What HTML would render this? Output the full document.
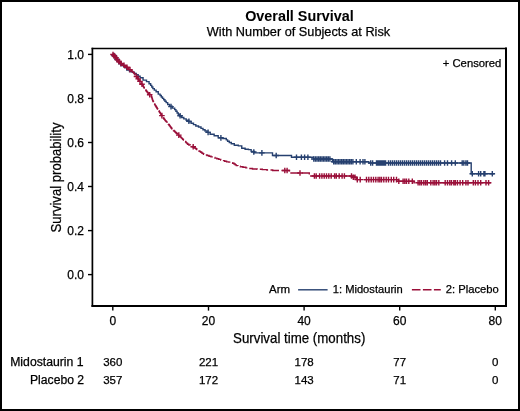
<!DOCTYPE html>
<html><head><meta charset="utf-8"><style>
html,body{margin:0;padding:0;background:#fff;}
svg{display:block;will-change:transform;}
text{font-family:"Liberation Sans", sans-serif;fill:#000;stroke:#000;stroke-width:0.25px;}
.b{stroke-width:0.05px;}
</style></head><body>
<svg width="520" height="411" viewBox="0 0 520 411">
<rect x="0" y="0" width="520" height="411" fill="#fff"/>
<rect x="1" y="1" width="518" height="409" fill="none" stroke="#000" stroke-width="2"/>
<text x="245.20" y="20.80" font-size="13.80" font-weight="bold" class="b" textLength="108.51" lengthAdjust="spacingAndGlyphs">Overall Survival</text>
<text x="206.85" y="36.40" font-size="13.40" textLength="183.35" lengthAdjust="spacingAndGlyphs">With Number of Subjects at Risk</text>
<g fill="none" stroke-linejoin="miter">
<path d="M112.70 54.20 L113.35 54.20 L113.35 55.50 L114.65 55.50 L114.65 56.80 L115.30 56.80 L115.85 56.80 L115.85 58.40 L116.95 58.40 L116.95 60.00 L117.50 60.00 L118.05 60.00 L118.05 61.30 L119.15 61.30 L119.15 62.60 L119.70 62.60 L121.15 62.60 L121.15 65.00 L122.60 65.00 L123.32 65.00 L123.32 66.40 L124.78 66.40 L124.78 67.80 L125.50 67.80 L126.75 67.80 L126.75 70.00 L128.00 70.00 L129.50 70.00 L129.50 71.50 L131.00 71.50 L132.15 71.50 L132.15 72.30 L133.30 72.30 L134.28 72.30 L134.28 73.55 L136.22 73.55 L136.22 74.80 L137.20 74.80 L138.17 74.80 L138.17 76.25 L140.12 76.25 L140.12 77.70 L141.10 77.70 L143.05 77.70 L143.05 80.10 L145.00 80.10 L146.50 80.10 L146.50 81.60 L148.00 81.60 L149.05 81.60 L149.05 83.80 L150.10 83.80 L150.65 83.80 L150.65 85.40 L151.75 85.40 L151.75 87.00 L152.85 87.00 L152.85 88.60 L153.40 88.60 L154.30 88.60 L154.30 90.15 L156.10 90.15 L156.10 91.70 L157.00 91.70 L158.25 91.70 L158.25 94.10 L159.50 94.10 L160.10 94.10 L160.10 95.53 L161.30 95.53 L161.30 96.97 L162.50 96.97 L162.50 98.40 L163.10 98.40 L163.72 98.40 L163.72 99.80 L164.95 99.80 L164.95 101.20 L166.18 101.20 L166.18 102.60 L166.80 102.60 L167.70 102.60 L167.70 104.45 L169.50 104.45 L169.50 106.30 L170.40 106.30 L172.25 106.30 L172.25 108.10 L174.10 108.10 L174.70 108.10 L174.70 109.65 L175.90 109.65 L175.90 111.20 L176.50 111.20 L177.10 111.20 L177.10 113.00 L178.30 113.00 L178.30 114.80 L178.90 114.80 L179.82 114.80 L179.82 116.15 L181.68 116.15 L181.68 117.50 L182.60 117.50 L183.80 117.50 L183.80 118.90 L186.20 118.90 L186.20 120.30 L187.40 120.30 L188.62 120.30 L188.62 121.80 L191.08 121.80 L191.08 123.30 L192.30 123.30 L193.48 123.30 L193.48 124.65 L195.82 124.65 L195.82 126.00 L197.00 126.00 L198.50 126.00 L198.50 127.00 L200.00 127.00 L201.00 127.00 L201.00 128.35 L203.00 128.35 L203.00 129.70 L204.00 129.70 L205.03 129.70 L205.03 131.05 L207.07 131.05 L207.07 132.40 L208.10 132.40 L210.10 132.40 L210.10 134.20 L212.10 134.20 L214.15 134.20 L214.15 135.80 L216.20 135.80 L218.20 135.80 L218.20 137.80 L220.20 137.80 L222.90 137.80 L222.90 138.50 L225.60 138.50 L226.28 138.50 L226.28 139.85 L227.62 139.85 L227.62 141.20 L228.30 141.20 L229.30 141.20 L229.30 142.50 L231.30 142.50 L231.30 143.80 L232.30 143.80 L234.30 143.80 L234.30 145.20 L236.30 145.20 L238.35 145.20 L238.35 145.90 L240.40 145.90 L241.75 145.90 L241.75 148.20 L243.10 148.20 L245.10 148.20 L245.10 149.20 L247.10 149.20 L248.45 149.20 L248.45 149.60 L249.80 149.60 L251.15 149.60 L251.15 151.50 L252.50 151.50 L254.50 151.50 L254.50 152.90 L256.50 152.90 L256.5 152.9 L272.5 152.9 L272.5 155.5 L291.5 155.5 L291.5 157.2 L313.3 157.2 L313.3 159.0 L332.5 159.0 L332.5 161.7 L368.8 161.7 L368.8 163.0 L471.2 163.0 L471.2 173.8 L494.4 173.8" stroke="#26406f" stroke-width="1.4"/>
<path d="M114.0 52.7v5.6M111.2 55.5h5.6M117.0 56.5v5.6M114.2 59.3h5.6M121.0 60.9v5.6M118.2 63.7h5.6M171.0 103.8v5.6M168.2 106.6h5.6M180.1 112.9v5.6M177.3 115.7h5.6M188.9 118.4v5.6M186.1 121.2h5.6M208.1 129.6v5.6M205.3 132.4h5.6M220.9 135.1v5.6M218.1 137.9h5.6M253.8 149.2v5.6M251.0 152.0h5.6M261.9 150.1v5.6M259.1 152.9h5.6M276.2 152.7v5.6M273.4 155.5h5.6M296.5 154.4v5.6M293.7 157.2h5.6M301.4 154.4v5.6M298.6 157.2h5.6M304.6 154.4v5.6M301.8 157.2h5.6M307.9 154.4v5.6M305.1 157.2h5.6M313.8 156.2v5.6M311.0 159.0h5.6M315.5 156.2v5.6M312.7 159.0h5.6M317.1 156.2v5.6M314.3 159.0h5.6M318.7 156.2v5.6M315.9 159.0h5.6M320.3 156.2v5.6M317.5 159.0h5.6M321.9 156.2v5.6M319.1 159.0h5.6M323.5 156.2v5.6M320.7 159.0h5.6M325.1 156.2v5.6M322.3 159.0h5.6M326.7 156.2v5.6M323.9 159.0h5.6M328.3 156.2v5.6M325.5 159.0h5.6M329.9 156.2v5.6M327.1 159.0h5.6M333.7 158.9v5.6M330.9 161.7h5.6M335.3 158.9v5.6M332.5 161.7h5.6M336.9 158.9v5.6M334.1 161.7h5.6M338.5 158.9v5.6M335.7 161.7h5.6M340.1 158.9v5.6M337.3 161.7h5.6M341.7 158.9v5.6M338.9 161.7h5.6M343.3 158.9v5.6M340.5 161.7h5.6M344.9 158.9v5.6M342.1 161.7h5.6M346.5 158.9v5.6M343.7 161.7h5.6M348.1 158.9v5.6M345.3 161.7h5.6M349.7 158.9v5.6M346.9 161.7h5.6M351.3 158.9v5.6M348.5 161.7h5.6M352.9 158.9v5.6M350.1 161.7h5.6M356.3 158.9v5.6M353.5 161.7h5.6M360.1 158.9v5.6M357.3 161.7h5.6M363.0 158.9v5.6M360.2 161.7h5.6M364.9 158.9v5.6M362.1 161.7h5.6M370.7 160.2v5.6M367.9 163.0h5.6M372.6 160.2v5.6M369.8 163.0h5.6M376.5 160.2v5.6M373.7 163.0h5.6M377.8 160.2v5.6M375.0 163.0h5.6M379.1 160.2v5.6M376.3 163.0h5.6M380.4 160.2v5.6M377.6 163.0h5.6M381.7 160.2v5.6M378.9 163.0h5.6M383.0 160.2v5.6M380.2 163.0h5.6M384.3 160.2v5.6M381.5 163.0h5.6M385.6 160.2v5.6M382.8 163.0h5.6M388.5 160.2v5.6M385.7 163.0h5.6M390.5 160.2v5.6M387.7 163.0h5.6M392.5 160.2v5.6M389.7 163.0h5.6M394.5 160.2v5.6M391.7 163.0h5.6M396.5 160.2v5.6M393.7 163.0h5.6M398.5 160.2v5.6M395.7 163.0h5.6M400.5 160.2v5.6M397.7 163.0h5.6M402.5 160.2v5.6M399.7 163.0h5.6M404.5 160.2v5.6M401.7 163.0h5.6M406.5 160.2v5.6M403.7 163.0h5.6M408.5 160.2v5.6M405.7 163.0h5.6M410.5 160.2v5.6M407.7 163.0h5.6M412.5 160.2v5.6M409.7 163.0h5.6M414.5 160.2v5.6M411.7 163.0h5.6M416.5 160.2v5.6M413.7 163.0h5.6M418.5 160.2v5.6M415.7 163.0h5.6M420.5 160.2v5.6M417.7 163.0h5.6M422.5 160.2v5.6M419.7 163.0h5.6M424.5 160.2v5.6M421.7 163.0h5.6M426.5 160.2v5.6M423.7 163.0h5.6M428.5 160.2v5.6M425.7 163.0h5.6M430.5 160.2v5.6M427.7 163.0h5.6M432.5 160.2v5.6M429.7 163.0h5.6M434.5 160.2v5.6M431.7 163.0h5.6M436.5 160.2v5.6M433.7 163.0h5.6M438.5 160.2v5.6M435.7 163.0h5.6M440.5 160.2v5.6M437.7 163.0h5.6M444.6 160.2v5.6M441.8 163.0h5.6M447.5 160.2v5.6M444.7 163.0h5.6M451.6 160.2v5.6M448.8 163.0h5.6M455.3 160.2v5.6M452.5 163.0h5.6M462.2 160.2v5.6M459.4 163.0h5.6M463.8 160.2v5.6M461.0 163.0h5.6M465.9 160.2v5.6M463.1 163.0h5.6M467.5 160.2v5.6M464.7 163.0h5.6M472.3 171.0v5.6M469.5 173.8h5.6M478.6 171.0v5.6M475.8 173.8h5.6M480.7 171.0v5.6M477.9 173.8h5.6M483.9 171.0v5.6M481.1 173.8h5.6M484.9 171.0v5.6M482.1 173.8h5.6M492.3 171.0v5.6M489.5 173.8h5.6" stroke="#26406f" stroke-width="1.4"/>
<path d="M112.70 54.20 L113.03 54.20 L113.03 54.85 L113.67 54.85 L113.67 55.50 L114.33 55.50 L114.33 56.15 L114.97 56.15 L114.97 56.80 L115.30 56.80 L115.52 56.80 L115.52 57.44 L115.96 57.44 L115.96 58.08 L116.40 58.08 L116.40 58.72 L116.84 58.72 L116.84 59.36 L117.28 59.36 L117.28 60.00 L117.50 60.00 L117.78 60.00 L117.78 60.65 L118.33 60.65 L118.33 61.30 L118.88 61.30 L118.88 61.95 L119.42 61.95 L119.42 62.60 L119.70 62.60 L120.18 62.60 L120.18 63.20 L121.15 63.20 L121.15 63.80 L122.12 63.80 L122.12 64.40 L122.60 64.40 L123.08 64.40 L123.08 65.00 L124.05 65.00 L124.05 65.60 L125.02 65.60 L125.02 66.20 L125.50 66.20 L125.98 66.20 L125.98 66.93 L126.95 66.93 L126.95 67.67 L127.92 67.67 L127.92 68.40 L128.40 68.40 L128.90 68.40 L128.90 69.13 L129.90 69.13 L129.90 69.87 L130.90 69.87 L130.90 70.60 L131.40 70.60 L131.76 70.60 L131.76 71.25 L132.49 71.25 L132.49 71.90 L133.21 71.90 L133.21 72.55 L133.94 72.55 L133.94 73.20 L134.30 73.20 L134.55 73.20 L134.55 73.96 L135.05 73.96 L135.05 74.72 L135.55 74.72 L135.55 75.48 L136.05 75.48 L136.05 76.24 L136.55 76.24 L136.55 77.00 L136.80 77.00 L137.04 77.00 L137.04 77.67 L137.53 77.67 L137.53 78.33 L138.01 78.33 L138.01 79.00 L138.49 79.00 L138.49 79.67 L138.97 79.67 L138.97 80.33 L139.46 80.33 L139.46 81.00 L139.70 81.00 L139.94 81.00 L139.94 81.67 L140.42 81.67 L140.42 82.33 L140.91 82.33 L140.91 83.00 L141.39 83.00 L141.39 83.67 L141.88 83.67 L141.88 84.33 L142.36 84.33 L142.36 85.00 L142.60 85.00 L142.79 85.00 L142.79 85.67 L143.18 85.67 L143.18 86.33 L143.56 86.33 L143.56 87.00 L143.94 87.00 L143.94 87.67 L144.32 87.67 L144.32 88.33 L144.71 88.33 L144.71 89.00 L144.90 89.00 L145.20 89.00 L145.20 89.75 L145.80 89.75 L145.80 90.50 L146.40 90.50 L146.40 91.25 L147.00 91.25 L147.00 92.00 L147.60 92.00 L147.60 92.75 L148.20 92.75 L148.20 93.50 L148.50 93.50 L148.89 93.50 L148.89 94.28 L149.66 94.28 L149.66 95.05 L150.44 95.05 L150.44 95.82 L151.21 95.82 L151.21 96.60 L151.60 96.60 L151.71 96.60 L151.71 97.30 L151.93 97.30 L151.93 98.00 L152.14 98.00 L152.14 98.70 L152.36 98.70 L152.36 99.40 L152.57 99.40 L152.57 100.10 L152.79 100.10 L152.79 100.80 L152.90 100.80 L153.09 100.80 L153.09 101.52 L153.47 101.52 L153.47 102.23 L153.86 102.23 L153.86 102.95 L154.24 102.95 L154.24 103.67 L154.62 103.67 L154.62 104.38 L155.01 104.38 L155.01 105.10 L155.20 105.10 L155.43 105.10 L155.43 105.82 L155.89 105.82 L155.89 106.54 L156.35 106.54 L156.35 107.26 L156.81 107.26 L156.81 107.98 L157.27 107.98 L157.27 108.70 L157.50 108.70 L157.71 108.70 L157.71 109.35 L158.12 109.35 L158.12 110.00 L158.54 110.00 L158.54 110.65 L158.96 110.65 L158.96 111.30 L159.38 111.30 L159.38 111.95 L159.79 111.95 L159.79 112.60 L160.00 112.60 L160.24 112.60 L160.24 113.36 L160.72 113.36 L160.72 114.12 L161.20 114.12 L161.20 114.88 L161.68 114.88 L161.68 115.64 L162.16 115.64 L162.16 116.40 L162.40 116.40 L162.65 116.40 L162.65 117.10 L163.15 117.10 L163.15 117.80 L163.65 117.80 L163.65 118.50 L164.15 118.50 L164.15 119.20 L164.65 119.20 L164.65 119.90 L164.90 119.90 L165.22 119.90 L165.22 120.62 L165.88 120.62 L165.88 121.35 L166.53 121.35 L166.53 122.08 L167.18 122.08 L167.18 122.80 L167.50 122.80 L167.76 122.80 L167.76 123.47 L168.27 123.47 L168.27 124.15 L168.78 124.15 L168.78 124.82 L169.29 124.82 L169.29 125.50 L169.81 125.50 L169.81 126.17 L170.32 126.17 L170.32 126.85 L170.83 126.85 L170.83 127.52 L171.34 127.52 L171.34 128.20 L171.60 128.20 L171.97 128.20 L171.97 128.96 L172.71 128.96 L172.71 129.72 L173.45 129.72 L173.45 130.48 L174.19 130.48 L174.19 131.24 L174.93 131.24 L174.93 132.00 L175.30 132.00 L175.71 132.00 L175.71 132.72 L176.53 132.72 L176.53 133.44 L177.35 133.44 L177.35 134.16 L178.17 134.16 L178.17 134.88 L178.99 134.88 L178.99 135.60 L179.40 135.60 L179.77 135.60 L179.77 136.35 L180.50 136.35 L180.50 137.10 L181.23 137.10 L181.23 137.85 L181.97 137.85 L181.97 138.60 L182.70 138.60 L182.70 139.35 L183.43 139.35 L183.43 140.10 L183.80 140.10 L184.16 140.10 L184.16 140.78 L184.88 140.78 L184.88 141.47 L185.59 141.47 L185.59 142.15 L186.31 142.15 L186.31 142.83 L187.03 142.83 L187.03 143.52 L187.74 143.52 L187.74 144.20 L188.10 144.20 L188.84 144.20 L188.84 144.95 L190.31 144.95 L190.31 145.70 L191.79 145.70 L191.79 146.45 L193.26 146.45 L193.26 147.20 L194.00 147.20 L194.55 147.20 L194.55 147.97 L195.65 147.97 L195.65 148.75 L196.75 148.75 L196.75 149.53 L197.85 149.53 L197.85 150.30 L198.40 150.30 L198.88 150.30 L198.88 150.97 L199.85 150.97 L199.85 151.63 L200.82 151.63 L200.82 152.30 L201.78 152.30 L201.78 152.97 L202.75 152.97 L202.75 153.63 L203.72 153.63 L203.72 154.30 L204.20 154.30 L205.17 154.30 L205.17 154.93 L207.10 154.93 L207.10 155.57 L209.03 155.57 L209.03 156.20 L210.00 156.20 L210.98 156.20 L210.98 156.83 L212.95 156.83 L212.95 157.47 L214.92 157.47 L214.92 158.10 L215.90 158.10 L216.87 158.10 L216.87 158.73 L218.80 158.73 L218.80 159.37 L220.73 159.37 L220.73 160.00 L221.70 160.00 L222.68 160.00 L222.68 160.63 L224.65 160.63 L224.65 161.27 L226.62 161.27 L226.62 161.90 L227.60 161.90 L228.80 161.90 L228.80 162.10 L230.00 162.10 L230.88 162.10 L230.88 162.70 L232.62 162.70 L232.62 163.30 L233.50 163.30 L234.07 163.30 L234.07 164.07 L235.20 164.07 L235.20 164.83 L236.33 164.83 L236.33 165.60 L236.90 165.60 L238.05 165.60 L238.05 166.15 L240.35 166.15 L240.35 166.70 L241.50 166.70 L242.95 166.70 L242.95 167.30 L245.85 167.30 L245.85 167.90 L247.30 167.90 L249.03 167.90 L249.03 168.45 L252.47 168.45 L252.47 169.00 L254.20 169.00 L257.10 169.00 L257.10 169.30 L260.00 169.30 L262.30 169.30 L262.30 169.60 L264.60 169.60 L266.90 169.60 L266.90 170.00 L269.20 170.00 L272.70 170.00 L272.70 170.50 L276.20 170.50 L276.2 170.5 L289.5 170.5 L289.5 173.0 L309.3 173.0 L309.3 176.0 L352.0 176.0 L352.0 177.2 L356.5 177.2 L356.5 179.6 L398.5 179.6 L398.5 181.3 L414.0 181.3 L414.0 182.8 L490.8 182.8" stroke="#9a0f39" stroke-width="1.4" stroke-dasharray="9 2.4"/>
<path d="M113.0 51.7v5.6M110.2 54.5h5.6M114.5 53.2v5.6M111.7 56.0h5.6M116.0 55.0v5.6M113.2 57.8h5.6M117.5 57.2v5.6M114.7 60.0h5.6M119.0 59.0v5.6M116.2 61.8h5.6M121.0 60.6v5.6M118.2 63.4h5.6M124.0 62.5v5.6M121.2 65.3h5.6M127.0 64.5v5.6M124.2 67.3h5.6M130.0 66.8v5.6M127.2 69.6h5.6M136.5 73.7v5.6M133.7 76.5h5.6M138.2 76.1v5.6M135.4 78.9h5.6M140.0 78.6v5.6M137.2 81.4h5.6M142.0 81.4v5.6M139.2 84.2h5.6M149.7 91.9v5.6M146.9 94.7h5.6M161.9 112.8v5.6M159.1 115.6h5.6M178.8 132.3v5.6M176.0 135.1h5.6M193.2 144.0v5.6M190.4 146.8h5.6M284.8 167.7v5.6M282.0 170.5h5.6M287.1 167.7v5.6M284.3 170.5h5.6M300.0 170.2v5.6M297.2 173.0h5.6M314.4 173.2v5.6M311.6 176.0h5.6M316.2 173.2v5.6M313.4 176.0h5.6M319.6 173.2v5.6M316.8 176.0h5.6M321.9 173.2v5.6M319.1 176.0h5.6M324.2 173.2v5.6M321.4 176.0h5.6M326.5 173.2v5.6M323.7 176.0h5.6M328.8 173.2v5.6M326.0 176.0h5.6M331.2 173.2v5.6M328.4 176.0h5.6M334.6 173.2v5.6M331.8 176.0h5.6M336.3 173.2v5.6M333.5 176.0h5.6M339.2 173.2v5.6M336.4 176.0h5.6M342.1 173.2v5.6M339.3 176.0h5.6M344.4 173.2v5.6M341.6 176.0h5.6M351.5 173.2v5.6M348.7 176.0h5.6M353.3 174.4v5.6M350.5 177.2h5.6M355.0 174.4v5.6M352.2 177.2h5.6M357.3 176.8v5.6M354.5 179.6h5.6M360.2 176.8v5.6M357.4 179.6h5.6M366.5 176.8v5.6M363.7 179.6h5.6M368.8 176.8v5.6M366.0 179.6h5.6M371.2 176.8v5.6M368.4 179.6h5.6M373.5 176.8v5.6M370.7 179.6h5.6M375.8 176.8v5.6M373.0 179.6h5.6M378.1 176.8v5.6M375.3 179.6h5.6M379.8 176.8v5.6M377.0 179.6h5.6M381.5 176.8v5.6M378.7 179.6h5.6M383.8 176.8v5.6M381.0 179.6h5.6M386.2 176.8v5.6M383.4 179.6h5.6M388.5 176.8v5.6M385.7 179.6h5.6M391.3 176.8v5.6M388.5 179.6h5.6M393.7 176.8v5.6M390.9 179.6h5.6M396.5 176.8v5.6M393.7 179.6h5.6M398.8 178.5v5.6M396.0 181.3h5.6M403.1 178.5v5.6M400.3 181.3h5.6M404.8 178.5v5.6M402.0 181.3h5.6M406.5 178.5v5.6M403.7 181.3h5.6M408.8 178.5v5.6M406.0 181.3h5.6M412.3 178.5v5.6M409.5 181.3h5.6M418.1 180.0v5.6M415.3 182.8h5.6M419.8 180.0v5.6M417.0 182.8h5.6M421.5 180.0v5.6M418.7 182.8h5.6M423.8 180.0v5.6M421.0 182.8h5.6M425.6 180.0v5.6M422.8 182.8h5.6M427.3 180.0v5.6M424.5 182.8h5.6M430.8 180.0v5.6M428.0 182.8h5.6M433.1 180.0v5.6M430.3 182.8h5.6M434.8 180.0v5.6M432.0 182.8h5.6M436.5 180.0v5.6M433.7 182.8h5.6M438.8 180.0v5.6M436.0 182.8h5.6M445.2 180.0v5.6M442.4 182.8h5.6M447.5 180.0v5.6M444.7 182.8h5.6M449.8 180.0v5.6M447.0 182.8h5.6M451.5 180.0v5.6M448.7 182.8h5.6M453.8 180.0v5.6M451.0 182.8h5.6M455.3 180.0v5.6M452.5 182.8h5.6M457.4 180.0v5.6M454.6 182.8h5.6M460.1 180.0v5.6M457.3 182.8h5.6M462.7 180.0v5.6M459.9 182.8h5.6M465.9 180.0v5.6M463.1 182.8h5.6M468.0 180.0v5.6M465.2 182.8h5.6M473.3 180.0v5.6M470.5 182.8h5.6M475.4 180.0v5.6M472.6 182.8h5.6M478.0 180.0v5.6M475.2 182.8h5.6M480.7 180.0v5.6M477.9 182.8h5.6M486.0 180.0v5.6M483.2 182.8h5.6M488.6 180.0v5.6M485.8 182.8h5.6" stroke="#9a0f39" stroke-width="1.4"/>
</g>
<g stroke="#000" fill="none" stroke-linecap="square">
<line x1="92.4" y1="48.5" x2="92.4" y2="306" stroke-width="1.7"/>
<line x1="92.4" y1="48.5" x2="506" y2="48.5" stroke-width="1.6"/>
<line x1="506" y1="48.5" x2="506" y2="306" stroke-width="2"/>
<line x1="92.4" y1="306" x2="506" y2="306" stroke-width="1.9"/>
</g>
<g stroke="#000" stroke-width="1.4"><line x1="88" y1="274.6" x2="92" y2="274.6"/><line x1="88" y1="230.6" x2="92" y2="230.6"/><line x1="88" y1="186.5" x2="92" y2="186.5"/><line x1="88" y1="142.5" x2="92" y2="142.5"/><line x1="88" y1="98.4" x2="92" y2="98.4"/><line x1="88" y1="54.4" x2="92" y2="54.4"/><line x1="112.8" y1="306" x2="112.8" y2="310.6"/><line x1="208.5" y1="306" x2="208.5" y2="310.6"/><line x1="304.1" y1="306" x2="304.1" y2="310.6"/><line x1="399.7" y1="306" x2="399.7" y2="310.6"/><line x1="495.3" y1="306" x2="495.3" y2="310.6"/></g>
<g font-size="12"><text x="84" y="278.8" text-anchor="end">0.0</text><text x="84" y="234.8" text-anchor="end">0.2</text><text x="84" y="190.7" text-anchor="end">0.4</text><text x="84" y="146.7" text-anchor="end">0.6</text><text x="84" y="102.6" text-anchor="end">0.8</text><text x="84" y="58.6" text-anchor="end">1.0</text><text x="112.8" y="324.9" text-anchor="middle">0</text><text x="208.5" y="324.9" text-anchor="middle">20</text><text x="304.1" y="324.9" text-anchor="middle">40</text><text x="399.7" y="324.9" text-anchor="middle">60</text><text x="495.3" y="324.9" text-anchor="middle">80</text></g>
<text x="442.76" y="66.70" font-size="11.80" textLength="58.66" lengthAdjust="spacingAndGlyphs">+ Censored</text>
<text transform="translate(60.80 232.50) rotate(-90)" font-size="14.00" textLength="109.94" lengthAdjust="spacingAndGlyphs">Survival probability</text>
<text x="233.09" y="343.00" font-size="14.30" textLength="132.25" lengthAdjust="spacingAndGlyphs">Survival time (months)</text>
<g font-size="11">
<text x="268.98" y="292.70" font-size="11.20" textLength="21.07" lengthAdjust="spacingAndGlyphs">Arm</text>
<line x1="298.1" y1="289.8" x2="327.6" y2="289.8" stroke="#26406f" stroke-width="1.4"/>
<text x="332.75" y="292.70" font-size="11.20" textLength="70.07" lengthAdjust="spacingAndGlyphs">1: Midostaurin</text>
<line x1="411.9" y1="289.8" x2="440.8" y2="289.8" stroke="#9a0f39" stroke-width="1.4" stroke-dasharray="8.6 2.4"/>
<text x="445.74" y="292.70" font-size="11.20" textLength="53.03" lengthAdjust="spacingAndGlyphs">2: Placebo</text>
</g>
<g font-size="12">
<text x="10.20" y="365.70" font-size="12.00" textLength="73.40" lengthAdjust="spacingAndGlyphs">Midostaurin 1</text>
<text x="30.00" y="383.60" font-size="12.00" textLength="54.10" lengthAdjust="spacingAndGlyphs">Placebo 2</text>
</g>
<g font-size="11.5" text-anchor="middle"><text x="112.8" y="366">360</text><text x="112.8" y="384">357</text><text x="208.5" y="366">221</text><text x="208.5" y="384">172</text><text x="304.1" y="366">178</text><text x="304.1" y="384">143</text><text x="399.7" y="366">77</text><text x="399.7" y="384">71</text><text x="495.3" y="366">0</text><text x="495.3" y="384">0</text></g>
</svg>
</body></html>
